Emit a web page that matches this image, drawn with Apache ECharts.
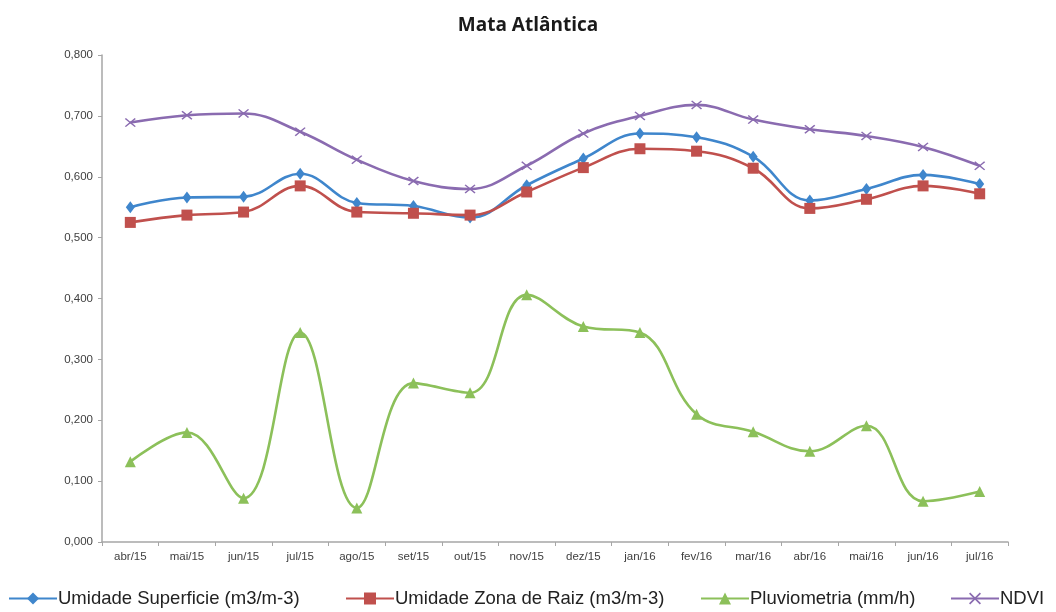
<!DOCTYPE html>
<html>
<head>
<meta charset="utf-8">
<title>Mata Atlântica</title>
<script src="https://cdn.jsdelivr.net/npm/echarts@6/dist/echarts.min.js"></script>
<style>
  html, body { margin: 0; padding: 0; background: #ffffff; }
  #chart { width: 1056px; height: 612px; }
</style>
</head>
<body>
<div id="chart"></div>
<script>
// Months covered by the series
const months = ['abr/15', 'mai/15', 'jun/15', 'jul/15', 'ago/15', 'set/15', 'out/15', 'nov/15',
                'dez/15', 'jan/16', 'fev/16', 'mar/16', 'abr/16', 'mai/16', 'jun/16', 'jul/16'];

// Surface soil moisture (m3/m-3)
const umidadeSuperficie = [0.550, 0.566, 0.567, 0.605, 0.557, 0.552, 0.533, 0.586,
                           0.630, 0.671, 0.665, 0.633, 0.561, 0.580, 0.603, 0.588];

// Root-zone soil moisture (m3/m-3)
const umidadeZonaRaiz = [0.525, 0.537, 0.542, 0.585, 0.542, 0.540, 0.537, 0.575,
                         0.615, 0.646, 0.642, 0.614, 0.548, 0.563, 0.585, 0.572];

// Rainfall (mm/h)
const pluviometria = [0.132, 0.180, 0.072, 0.344, 0.056, 0.261, 0.245, 0.406,
                      0.354, 0.344, 0.210, 0.181, 0.149, 0.191, 0.067, 0.083];

// Vegetation index
const ndvi = [0.689, 0.701, 0.704, 0.674, 0.628, 0.593, 0.580, 0.618,
              0.671, 0.700, 0.718, 0.694, 0.678, 0.667, 0.649, 0.618];

// Value-axis ticks
const yTicks = [0, 0.1, 0.2, 0.3, 0.4, 0.5, 0.6, 0.7, 0.8];

const seriesNames = ['Umidade Superficie (m3/m-3)', 'Umidade Zona de Raiz (m3/m-3)',
                     'Pluviometria (mm/h)', 'NDVI'];

const colors = ['#3f86cc', '#c0504d', '#8cc05a', '#8a6bb0'];

const crossSymbol = 'path://M0,1L1,0L5,4L9,0L10,1L6,5L10,9L9,10L5,6L1,10L0,9L4,5Z';

const chart = echarts.init(document.getElementById('chart'), null, { renderer: 'canvas' });

function lineSeries(name, data, color, symbol, size) {
  return {
    name: name,
    type: 'line',
    data: data,
    smooth: 0.4,
    symbol: symbol,
    symbolSize: size,
    showAllSymbol: true,
    lineStyle: { color: color, width: 2.6 },
    itemStyle: { color: color, borderColor: color, borderWidth: 0 },
    emphasis: { disabled: true },
    z: 3
  };
}

const fontFamily = '"Liberation Sans", "DejaVu Sans", sans-serif';

// One legend block per series, laid out along the bottom edge
const legendLefts = [8, 345, 700, 950];
function legendBlock(name, left) {
  return {
    data: [name],
    bottom: 4,
    left: left,
    padding: 0,
    itemWidth: 48,
    itemHeight: 15,
    textStyle: { fontFamily: fontFamily, fontSize: 18.5, color: '#222222', padding: [0, 0, 0, -4] }
  };
}

chart.setOption({
  animation: false,
  backgroundColor: '#ffffff',
  title: {
    text: 'Mata Atlântica',
    left: 'center',
    top: 11,
    textStyle: { fontFamily: '"Open Sans", sans-serif', fontWeight: 'bold', fontSize: 19, color: '#1a1a1a' }
  },
  color: colors,
  legend: seriesNames.map((n, i) => legendBlock(n, legendLefts[i])),
  grid: { left: 102, right: 48, top: 55, bottom: 70, containLabel: false },
  xAxis: {
    type: 'category',
    data: months,
    boundaryGap: true,
    axisLine: { lineStyle: { color: '#a6a6a6', width: 1.5 } },
    axisTick: { show: true, interval: 0, length: 4, lineStyle: { color: '#a6a6a6' } },
    axisLabel: { interval: 0, fontFamily: fontFamily, fontSize: 11.5, color: '#404040', margin: 9 },
    splitLine: { show: false }
  },
  yAxis: {
    type: 'value',
    min: yTicks[0],
    max: yTicks[yTicks.length - 1],
    interval: 0.1,
    axisLine: { show: true, lineStyle: { color: '#a6a6a6', width: 1.5 } },
    axisTick: { show: true, length: 4, lineStyle: { color: '#a6a6a6' } },
    axisLabel: {
      fontFamily: fontFamily, fontSize: 11.5, color: '#404040', margin: 9,
      formatter: v => v.toFixed(3).replace('.', ',')
    },
    splitLine: { show: false }
  },
  series: [
    lineSeries(seriesNames[0], umidadeSuperficie, colors[0], 'diamond', [9, 12]),
    lineSeries(seriesNames[1], umidadeZonaRaiz, colors[1], 'rect', 11),
    lineSeries(seriesNames[2], pluviometria, colors[2], 'triangle', 11),
    lineSeries(seriesNames[3], ndvi, colors[3], crossSymbol, [11, 9])
  ]
});
</script>
</body>
</html>
